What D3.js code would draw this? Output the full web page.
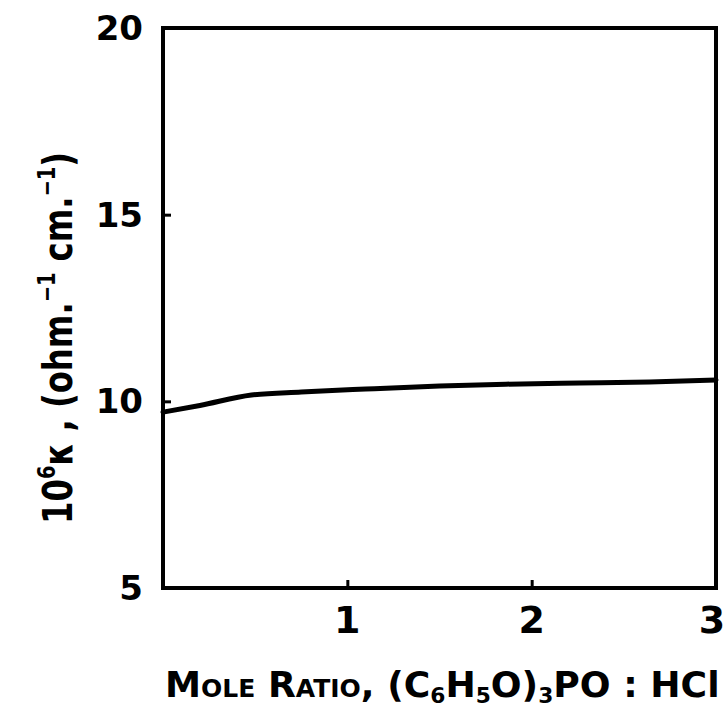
<!DOCTYPE html>
<html>
<head>
<meta charset="utf-8">
<script src="https://cdn.jsdelivr.net/npm/d3@7"></script>
<style>
  html, body { margin: 0; padding: 0; background: #fff; }
  svg { display: block; }
  text { font-family: "DejaVu Sans", sans-serif; fill: #000; }
</style>
</head>
<body>
<svg id="chart" width="726" height="713"></svg>
<script>
// ---- data ----
const moleRatio = [0, 0.2, 0.48, 0.75, 1.10, 1.50, 1.86, 2.26, 2.64, 3.0];
const conductivity = [9.71, 9.89, 10.17, 10.25, 10.33, 10.41, 10.46, 10.49, 10.52, 10.57];
const xTickValues = [1, 2, 3];
const xTickLabels = ["1", "2", "3"];
const yTickValues = [5, 10, 15, 20];
const yTickLabels = ["5", "10", "15", "20"];

const svg = d3.select("#chart");
const pLeft = 163, pRight = 716, pTop = 28, pBottom = 588;

const x = d3.scaleLinear().domain([0, 3]).range([pLeft, pRight]);
const y = d3.scaleLinear().domain([5, 20]).range([pBottom, pTop]);

// frame
svg.append("rect")
  .attr("x", pLeft).attr("y", pTop)
  .attr("width", pRight - pLeft).attr("height", pBottom - pTop)
  .attr("fill", "none").attr("stroke", "#000").attr("stroke-width", 4);

// inward ticks (interior only)
const xAxis = d3.axisTop(x).tickValues([1, 2]).tickSize(8).tickFormat("");
svg.append("g").attr("transform", `translate(0,${pBottom})`).call(xAxis)
  .call(g => g.select(".domain").remove())
  .call(g => g.selectAll("line").attr("stroke", "#000").attr("stroke-width", 3));

const yAxis = d3.axisRight(y).tickValues([10, 15]).tickSize(8).tickFormat("");
svg.append("g").attr("transform", `translate(${pLeft},0)`).call(yAxis)
  .call(g => g.select(".domain").remove())
  .call(g => g.selectAll("line").attr("stroke", "#000").attr("stroke-width", 3));

// tick labels
svg.append("g").selectAll("text").data(xTickValues).join("text")
  .attr("x", (d, i) => i === 2 ? x(d) - 4 : x(d))
  .attr("y", 633)
  .attr("text-anchor", "middle")
  .attr("font-size", 38).attr("font-weight", "bold")
  .text((d, i) => xTickLabels[i]);

svg.append("g").selectAll("text").data(yTickValues).join("text")
  .attr("x", 143)
  .attr("y", d => y(d) + 12)
  .attr("text-anchor", "end")
  .attr("font-size", 34).attr("font-weight", "bold")
  .text((d, i) => yTickLabels[i]);

// curve
const line = d3.line()
  .x((d, i) => x(moleRatio[i]))
  .y(d => y(d))
  .curve(d3.curveMonotoneX);
svg.append("path")
  .datum(conductivity)
  .attr("d", line)
  .attr("fill", "none").attr("stroke", "#000").attr("stroke-width", 5)
  .attr("stroke-linecap", "round");

// x title
const xt = svg.append("text")
  .attr("x", 165).attr("y", 697)
  .attr("font-size", 26).attr("font-weight", "bold")
  .style("font-variant", "small-caps");
const xparts = [
  ["Mole Ratio, (C", 0], ["6", 1], ["H", 0], ["5", 1], ["O)", 0], ["3", 1], ["PO : HC", 0], ["l", 2]
];
xparts.forEach(([t, kind]) => {
  const ts = xt.append("tspan").text(t);
  if (kind === 1) ts.attr("font-size", "0.6em").attr("baseline-shift", "-25%");
  if (kind === 2) ts.style("font-variant", "normal");
});
{
  const w = xt.node().getComputedTextLength();
  const fs = 26 * (555 / w);
  xt.attr("font-size", fs);
}

// y title
const yt = svg.append("text")
  .attr("transform", "translate(72,524) rotate(-90)")
  .attr("font-size", 40).attr("font-weight", "bold")
  .attr("textLength", 372).attr("lengthAdjust", "spacingAndGlyphs");
const yparts = [
  ["10", 0], ["6", 2], ["κ , (ohm.", 0], ["−1", 2], [" cm.", 0], ["−1", 2], [")", 0]
];
yparts.forEach(([t, sup]) => {
  const ts = yt.append("tspan").text(t);
  if (sup) ts.attr("font-size", "0.6em").attr("baseline-shift", "70%");
});
</script>
</body>
</html>
